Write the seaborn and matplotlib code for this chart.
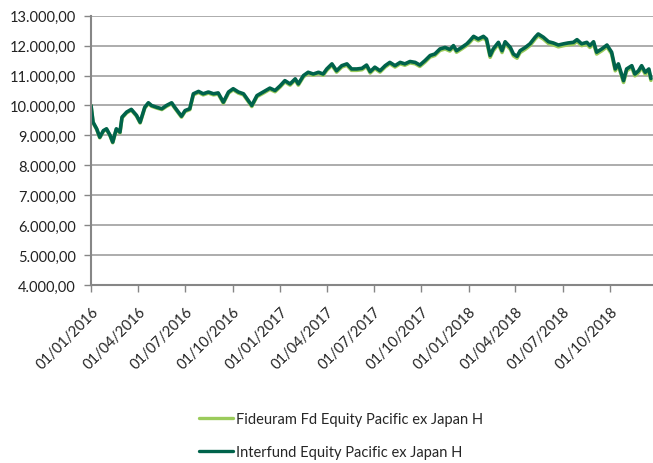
import matplotlib
matplotlib.use("Agg")
import matplotlib.pyplot as plt
import matplotlib.dates as mdates
from matplotlib.ticker import FuncFormatter
import seaborn as sns
import pandas as pd

dates = [
    "2016-01-01", "2016-01-05", "2016-01-12", "2016-01-18", "2016-01-25", "2016-01-31",
    "2016-02-07", "2016-02-12", "2016-02-19", "2016-02-26", "2016-03-01", "2016-03-10",
    "2016-03-19", "2016-03-29", "2016-04-05", "2016-04-14", "2016-04-21", "2016-04-27",
    "2016-05-07", "2016-05-17", "2016-05-26", "2016-06-05", "2016-06-11", "2016-06-18",
    "2016-06-24", "2016-07-01", "2016-07-10", "2016-07-17", "2016-07-27", "2016-08-05",
    "2016-08-15", "2016-08-25", "2016-09-03", "2016-09-13", "2016-09-23", "2016-10-02",
    "2016-10-12", "2016-10-22", "2016-10-31", "2016-11-07", "2016-11-17", "2016-11-29",
    "2016-12-12", "2016-12-22",
    "2017-01-01", "2017-01-10", "2017-01-20", "2017-01-30", "2017-02-05", "2017-02-15",
    "2017-02-24", "2017-03-06", "2017-03-16", "2017-03-25", "2017-04-01", "2017-04-11",
    "2017-04-20", "2017-04-30", "2017-05-10", "2017-05-19", "2017-05-29", "2017-06-08",
    "2017-06-17", "2017-06-24", "2017-07-03", "2017-07-13", "2017-07-23", "2017-08-01",
    "2017-08-11", "2017-08-21", "2017-08-30", "2017-09-09", "2017-09-19", "2017-09-28",
    "2017-10-08", "2017-10-18", "2017-10-27", "2017-11-06", "2017-11-16", "2017-11-25",
    "2017-12-02", "2017-12-08", "2017-12-18", "2017-12-28",
    "2018-01-03", "2018-01-10", "2018-01-19", "2018-01-29", "2018-02-04", "2018-02-11",
    "2018-02-17", "2018-02-27", "2018-03-06", "2018-03-12", "2018-03-22", "2018-03-28",
    "2018-04-04", "2018-04-10", "2018-04-20", "2018-04-29", "2018-05-09", "2018-05-15",
    "2018-05-25", "2018-06-04", "2018-06-13", "2018-06-23", "2018-07-03", "2018-07-12",
    "2018-07-22", "2018-07-29", "2018-08-07", "2018-08-17", "2018-08-23", "2018-08-30",
    "2018-09-05", "2018-09-15", "2018-09-25", "2018-10-04", "2018-10-11", "2018-10-17",
    "2018-10-27", "2018-11-02", "2018-11-12", "2018-11-18", "2018-11-25", "2018-12-01",
    "2018-12-08", "2018-12-15", "2018-12-19",
]

interfund = [
    10000, 9440, 9220, 8940, 9160, 9220,
    9000, 8775, 9220, 9110, 9610, 9780,
    9870, 9670, 9440, 9940, 10090, 10000,
    9940, 9890, 10000, 10090, 9940, 9780,
    9640, 9830, 9890, 10390, 10470, 10390,
    10450, 10390, 10420, 10110, 10450, 10560,
    10450, 10390, 10170, 10000, 10330, 10450,
    10580, 10500,
    10660, 10830, 10720, 10890, 10720, 11000,
    11110, 11050, 11110, 11050, 11220, 11390,
    11160, 11330, 11390, 11220, 11220, 11240,
    11350, 11130, 11280, 11160, 11330, 11440,
    11330, 11440, 11390, 11470, 11440, 11350,
    11500, 11670, 11720, 11890, 11940, 11870,
    12000, 11830, 11940, 12060,
    12170, 12310, 12220, 12310, 12220, 11670,
    11890, 12110, 11830, 12130, 11940, 11720,
    11640, 11830, 11940, 12060, 12280, 12390,
    12280, 12130, 12090, 12020, 12060, 12090,
    12110, 12200, 12060, 12110, 12000, 12130,
    11780, 11890, 12020, 11780, 11220, 11390,
    10830, 11220, 11330, 11050, 11160, 11330,
    11110, 11220, 10900,
]

fideuram = [
    10000, 9425, 9200, 8920, 9140, 9200,
    8980, 8755, 9195, 9085, 9585, 9755,
    9845, 9645, 9415, 9915, 10065, 9975,
    9915, 9865, 9970, 10060, 9910, 9750,
    9610, 9800, 9860, 10355, 10435, 10355,
    10415, 10355, 10385, 10075, 10415, 10525,
    10415, 10355, 10135, 9965, 10295, 10410,
    10540, 10460,
    10620, 10790, 10680, 10850, 10680, 10960,
    11070, 11010, 11070, 11010, 11175, 11345,
    11115, 11285, 11345, 11175, 11175, 11195,
    11305, 11085, 11235, 11115, 11285, 11395,
    11285, 11395, 11345, 11425, 11395, 11305,
    11450, 11620, 11670, 11840, 11890, 11820,
    11950, 11780, 11890, 12010,
    12115, 12255, 12165, 12255, 12165, 11610,
    11830, 12050, 11770, 12070, 11880, 11660,
    11580, 11770, 11880, 12000, 12220, 12330,
    12220, 12070, 12030, 11960, 12000, 12030,
    12050, 12140, 12000, 12050, 11940, 12070,
    11720, 11830, 11960, 11720, 11160, 11330,
    10770, 11160, 11270, 10990, 11100, 11270,
    11050, 11160, 10840,
]

series_names = ["Fideuram Fd Equity Pacific ex Japan H", "Interfund Equity Pacific ex Japan H"]
series_colors = ["#9BCB5B", "#00634B"]
y_ticks = [4000, 5000, 6000, 7000, 8000, 9000, 10000, 11000, 12000, 13000]
x_tick_dates = ["2016-01-01", "2016-04-01", "2016-07-01", "2016-10-01", "2017-01-01", "2017-04-01",
                "2017-07-01", "2017-10-01", "2018-01-01", "2018-04-01", "2018-07-01", "2018-10-01"]

df = pd.DataFrame({
    "date": pd.to_datetime(dates * 2),
    "value": fideuram + interfund,
    "series": [series_names[0]] * len(dates) + [series_names[1]] * len(dates),
})

sns.set_theme(style="white")
plt.rcParams["font.family"] = ["Lato", "DejaVu Sans"]

fig = plt.figure(figsize=(6.53, 4.64), dpi=100)
ax = fig.add_axes([91 / 653, 1 - 286 / 464, 1 - 91 / 653, (286 - 16.7) / 464])

sns.lineplot(data=df, x="date", y="value", hue="series", hue_order=series_names,
             palette=series_colors, linewidth=2.6, ax=ax, legend=True)

ax.set_xlim(pd.Timestamp("2016-01-01"), pd.Timestamp("2018-12-23"))
ax.set_ylim(4000, 13000)
ax.set_yticks(y_ticks)
ax.yaxis.set_major_formatter(FuncFormatter(
    lambda v, p: f"{v:,.2f}".replace(",", "X").replace(".", ",").replace("X", ".")))
ax.set_xticks(pd.to_datetime(x_tick_dates))
ax.xaxis.set_major_formatter(mdates.DateFormatter("%d/%m/%Y"))
ax.grid(axis="y", color="#A6A6A6", linewidth=1.3)
ax.grid(axis="x", visible=False)
ax.set_axisbelow(True)
ax.set_xlabel("")
ax.set_ylabel("")
for s in ["top", "right"]:
    ax.spines[s].set_visible(False)
for s in ["left", "bottom"]:
    ax.spines[s].set_color("#868686")
    ax.spines[s].set_linewidth(1.5)
ax.tick_params(axis="both", which="both", direction="out", length=5, width=1.0,
               color="#868686", labelsize=10.5, labelcolor="#222222", left=True, bottom=True)
ax.tick_params(axis="y", pad=6)
ax.tick_params(axis="x", pad=9)
for lab in ax.get_xticklabels():
    lab.set_rotation(45)
    lab.set_ha("right")
    lab.set_rotation_mode("anchor")

handles, labels = ax.get_legend_handles_labels()
ax.get_legend().remove()
leg = fig.legend(handles, labels, loc="upper left", bbox_to_anchor=(199 / 653, 1 - 413 / 464),
                 frameon=False, fontsize=10.5, handlelength=2.35, handletextpad=0.2,
                 labelspacing=1.3, borderpad=0, borderaxespad=0)
for h in leg.get_lines():
    h.set_linewidth(2.4)

fig.savefig("out.png", dpi=100)
